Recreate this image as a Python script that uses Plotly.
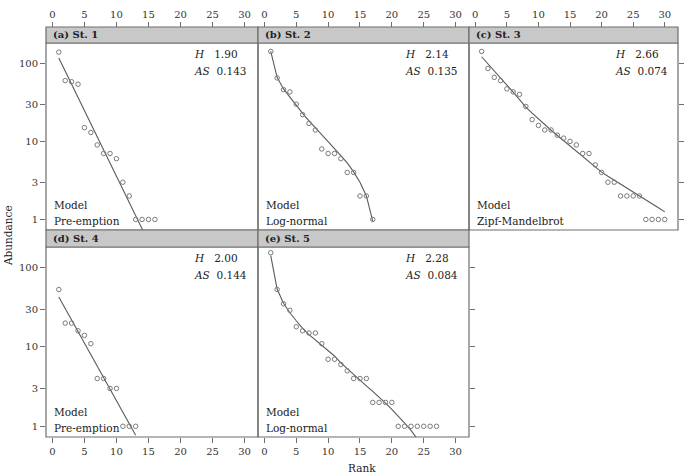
import plotly.graph_objects as go

W, H = 685, 476

# ---------------- data ----------------
st1_obs = [139, 60, 58, 54, 15, 13, 9, 7, 7, 6, 3, 2, 1, 1, 1, 1]
st1_fit = [116.7, 79.1, 53.7, 36.4, 24.7, 16.7, 11.4, 7.7, 5.2, 3.54, 2.40, 1.63, 1.11, 0.75, 0.51, 0.35]

st2_obs = [142, 65, 46, 43, 30, 22, 17, 14, 8, 7, 7, 6, 4, 4, 2, 2, 1]
st2_fit = [142, 66, 47, 36.5, 28.7, 22.8, 18.3, 14.8, 12.1, 9.9, 8.1, 6.6, 5.3, 4.07, 2.99, 2.0, 0.95]

st3_obs = [142, 86, 66, 60, 47, 43, 40, 28, 19, 16, 14, 14, 12, 11, 10, 9, 7, 7, 5, 4,
           3, 3, 2, 2, 2, 2, 1, 1, 1, 1]
st3_fit = [121.3, 97.7, 79.4, 64.6, 52.5, 42.8, 34.3, 27.5, 23.0, 19.3, 16.3, 13.9, 11.9, 10.2,
           8.71, 7.46, 6.40, 5.48, 4.70, 4.04, 3.57, 3.18, 2.83, 2.53, 2.27, 2.04, 1.80, 1.59, 1.41, 1.25]

st4_obs = [53, 20, 20, 16, 14, 11, 4, 4, 3, 3, 1, 1, 1]
st4_fit = [42.7, 30.5, 21.9, 15.7, 11.2, 8.0, 5.75, 4.12, 2.95, 2.11, 1.51, 1.08, 0.77]

st5_obs = [154, 53, 35, 29, 18, 16, 15, 15, 11, 7, 7, 6, 5, 4, 4, 4, 2, 2, 2, 2,
           1, 1, 1, 1, 1, 1, 1]
st5_fit = [142, 53.7, 35.5, 27.0, 21.4, 17.2, 14.3, 12.2, 10.5, 9.0, 7.7, 6.3, 5.3, 4.47, 3.8,
           3.24, 2.75, 2.34, 1.96, 1.63, 1.35, 1.10, 0.89, 0.70, 0.54, 0.40, 0.28]

strip_labels = ["(a) St. 1", "(b) St. 2", "(c) St. 3", "(d) St. 4", "(e) St. 5"]
models = ["Pre-emption", "Log-normal", "Zipf-Mandelbrot", "Pre-emption", "Log-normal"]
h_values = ["1.90", "2.14", "2.66", "2.00", "2.28"]
as_values = ["0.143", "0.135", "0.074", "0.144", "0.084"]
observed = [st1_obs, st2_obs, st3_obs, st4_obs, st5_obs]
fitted = [st1_fit, st2_fit, st3_fit, st4_fit, st5_fit]

x_ticks = [0, 5, 10, 15, 20, 25, 30]
y_ticks = [1, 3, 10, 30, 100]

# ---------------- layout geometry (pixels) ----------------
cols = [(46, 258), (258, 469), (469, 678)]
rows = [dict(strip=(27, 43), plot=(43, 230)), dict(strip=(230, 247), plot=(247, 437))]
cells = [(0, 0), (0, 1), (0, 2), (1, 0), (1, 1)]

FONT = "DejaVu Serif"
LINE = "#5a5a5a"
PT = "#7a7a7a"
BORDER = "#6e6e6e"
STRIP = "#c8c8c8"

def px(x):
    return x / W

def py(y):
    return 1 - y / H

fig = go.Figure()
shapes = []
annotations = []
layout = {}

for i, (r, c) in enumerate(cells):
    n = i + 1
    xa = "x" if n == 1 else f"x{n}"
    ya = "y" if n == 1 else f"y{n}"
    xkey = "xaxis" if n == 1 else f"xaxis{n}"
    ykey = "yaxis" if n == 1 else f"yaxis{n}"
    x0, x1 = cols[c]
    s0, s1 = rows[r]["strip"]
    p0, p1 = rows[r]["plot"]

    obs = observed[i]
    fit = fitted[i]
    rk_obs = list(range(1, len(obs) + 1))
    rk_fit = list(range(1, len(fit) + 1))

    fig.add_trace(go.Scatter(x=rk_fit, y=fit, mode="lines", xaxis=xa, yaxis=ya,
                             line=dict(color=LINE, width=1.1), showlegend=False,
                             hoverinfo="skip"))
    fig.add_trace(go.Scatter(x=rk_obs, y=obs, mode="markers", xaxis=xa, yaxis=ya,
                             marker=dict(symbol="circle-open", size=4.5,
                                         color=PT, line=dict(width=1, color=PT)),
                             showlegend=False, cliponaxis=False))

    xax = dict(domain=[px(x0), px(x1)], range=[-1.0, 32.1], showgrid=False,
               zeroline=False, showline=False, tickmode="array", tickvals=x_ticks,
               ticks="outside", ticklen=5, tickwidth=1, tickcolor=BORDER,
               tickfont=dict(family=FONT, size=10, color="#333"))
    if r == 0:
        xax.update(side="top", anchor="free", position=py(s0), ticklabelstandoff=0)
    else:
        xax.update(side="bottom", anchor=ya)
    layout[xkey] = xax

    yax = dict(domain=[py(p1), py(p0)], type="log", range=[-0.135, 2.26], showgrid=False,
               zeroline=False, showline=False, anchor=xa, tickmode="array",
               tickvals=y_ticks, ticktext=[str(v) for v in y_ticks],
               ticks="outside", ticklen=5, tickwidth=1, tickcolor=BORDER,
               tickfont=dict(family=FONT, size=10, color="#333"))
    if c == 0:
        yax.update(side="left")
    elif (r, c) in [(0, 2), (1, 1)]:
        yax.update(side="right", showticklabels=False)
    else:
        yax.update(ticks="", showticklabels=False)
    layout[ykey] = yax

    # panel border and strip
    shapes.append(dict(type="rect", xref="paper", yref="paper", x0=px(x0), x1=px(x1),
                       y0=py(p1), y1=py(p0), line=dict(color=BORDER, width=1.2),
                       fillcolor="rgba(0,0,0,0)", layer="above"))
    shapes.append(dict(type="rect", xref="paper", yref="paper", x0=px(x0), x1=px(x1),
                       y0=py(s1), y1=py(s0), line=dict(color=BORDER, width=1.2),
                       fillcolor=STRIP, layer="above"))
    annotations.append(dict(text=f"<b>{strip_labels[i]}</b>", xref="paper", yref="paper",
                            x=px(x0 + 5), y=py((s0 + s1) / 2), xanchor="left", yanchor="middle",
                            showarrow=False, font=dict(family=FONT, size=10, color="#222")))
    # H / AS stats
    annotations.append(dict(text=f"<i>H</i>&nbsp;&nbsp;&nbsp;{h_values[i]}", xref=xa, yref="paper",
                            x=21.8, y=py(p0 + 11), xanchor="left", yanchor="middle",
                            showarrow=False, font=dict(family=FONT, size=10.5, color="#222")))
    annotations.append(dict(text=f"<i>AS</i>&nbsp;&nbsp;{as_values[i]}", xref=xa, yref="paper",
                            x=21.8, y=py(p0 + 27.5), xanchor="left", yanchor="middle",
                            showarrow=False, font=dict(family=FONT, size=10.5, color="#222")))
    # model label
    annotations.append(dict(text="Model", xref=xa, yref="paper",
                            x=0, y=py(p1 - 25), xanchor="left", yanchor="middle",
                            showarrow=False, font=dict(family=FONT, size=10.5, color="#222")))
    annotations.append(dict(text=models[i], xref=xa, yref="paper",
                            x=0, y=py(p1 - 8.8), xanchor="left", yanchor="middle",
                            showarrow=False, font=dict(family=FONT, size=10.5, color="#222")))

annotations.append(dict(text="Abundance", xref="paper", yref="paper", x=px(8), y=py(236),
                        textangle=-90, xanchor="center", yanchor="middle", showarrow=False,
                        font=dict(family=FONT, size=10.5, color="#222")))
annotations.append(dict(text="Rank", xref="paper", yref="paper", x=px(362), y=py(468),
                        xanchor="center", yanchor="middle", showarrow=False,
                        font=dict(family=FONT, size=10.5, color="#222")))

fig.update_layout(width=W, height=H, margin=dict(l=0, r=0, t=0, b=0),
                  paper_bgcolor="white", plot_bgcolor="white",
                  shapes=shapes, annotations=annotations, **layout)

fig.write_html("out.html")
